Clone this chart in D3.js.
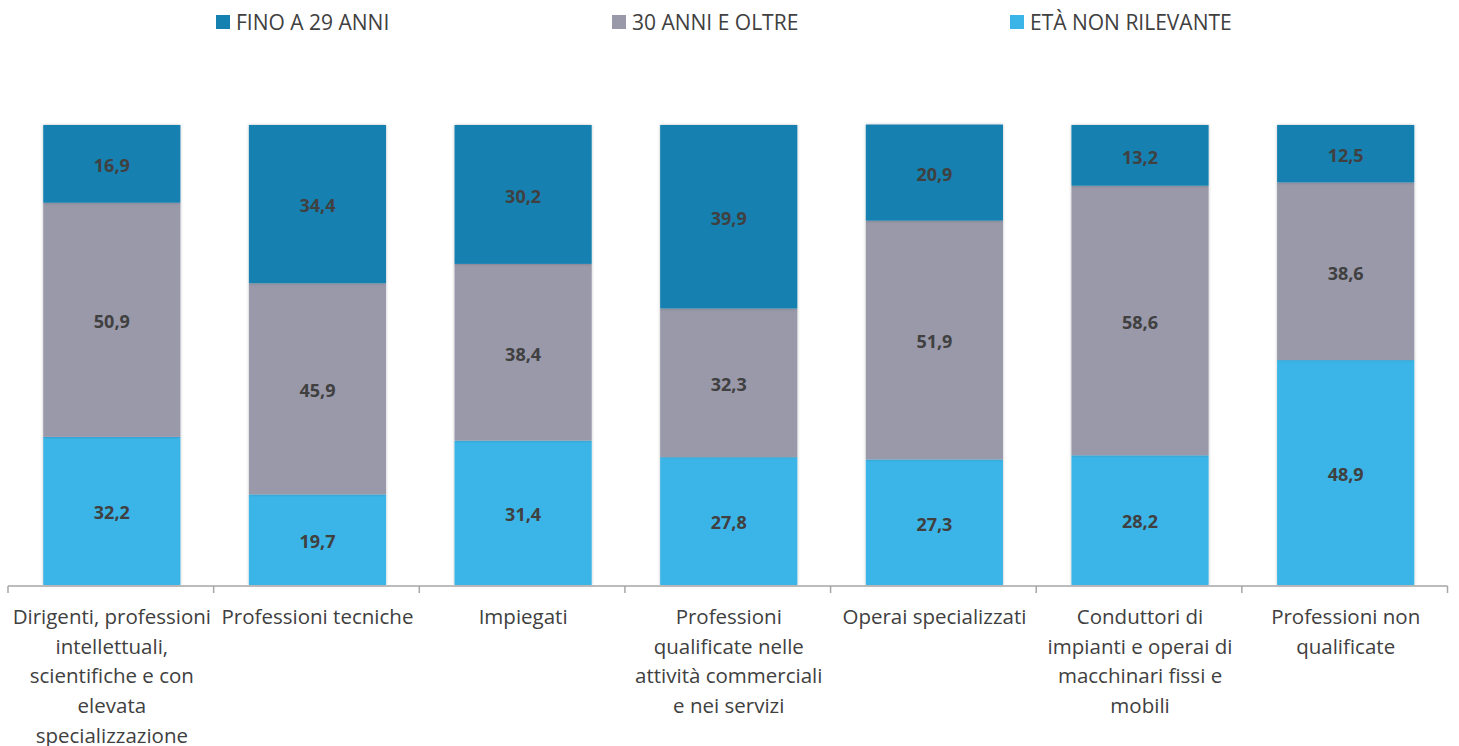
<!DOCTYPE html>
<html>
<head>
<meta charset="utf-8">
<script src="https://cdn.jsdelivr.net/npm/d3@7"></script>
<style>
  body { margin: 0; background: #fff; }
  text { font-family: "Open Sans", "Noto Sans", sans-serif; }
</style>
</head>
<body>
<svg id="chart" width="1459" height="746"></svg>
<script>
// categories (each line of the axis label)
var categories = [
  ["Dirigenti, professioni", "intellettuali,", "scientifiche e con", "elevata", "specializzazione"],
  ["Professioni tecniche"],
  ["Impiegati"],
  ["Professioni", "qualificate nelle", "attività commerciali", "e nei servizi"],
  ["Operai specializzati"],
  ["Conduttori di", "impianti e operai di", "macchinari fissi e", "mobili"],
  ["Professioni non", "qualificate"]
];

var seriesNames = ["ETÀ NON RILEVANTE", "30 ANNI E OLTRE", "FINO A 29 ANNI"];
var legendOrder = ["FINO A 29 ANNI", "30 ANNI E OLTRE", "ETÀ NON RILEVANTE"];

var nonRilevante = [32.2, 19.7, 31.4, 27.8, 27.3, 28.2, 48.9];
var oltre30 = [50.9, 45.9, 38.4, 32.3, 51.9, 58.6, 38.6];
var fino29 = [16.9, 34.4, 30.2, 39.9, 20.9, 13.2, 12.5];

var colors = {
  "FINO A 29 ANNI": "#1481b1",
  "30 ANNI E OLTRE": "#9999aa",
  "ETÀ NON RILEVANTE": "#3bb5e8"
};

var svg = d3.select("#chart");

var margin = { left: 8, right: 11.5, top: 125, bottom: 161 };
var width = 1459 - margin.left - margin.right;
var height = 746 - margin.top - margin.bottom;

// table for the stack
var table = categories.map(function(c, i) {
  return {
    idx: i,
    "ETÀ NON RILEVANTE": nonRilevante[i],
    "30 ANNI E OLTRE": oltre30[i],
    "FINO A 29 ANNI": fino29[i]
  };
});

var x = d3.scaleBand()
  .domain(d3.range(categories.length))
  .range([0, width])
  .paddingInner(0.333)
  .paddingOuter(0.1665);

var y = d3.scaleLinear().domain([0, 100]).range([height, 0]);

var stack = d3.stack().keys(seriesNames);
var layers = stack(table);

var defs = svg.append("defs");
var filter = defs.append("filter").attr("id", "shadow")
  .attr("x", "-10%").attr("y", "-10%").attr("width", "120%").attr("height", "120%");
filter.append("feDropShadow")
  .attr("dx", 0).attr("dy", 0).attr("stdDeviation", 1.5)
  .attr("flood-color", "#000").attr("flood-opacity", 0.25);

var g = svg.append("g").attr("transform", "translate(" + margin.left + "," + margin.top + ")");

// bars
var layerG = g.selectAll(".layer").data(layers).enter().append("g")
  .attr("class", "layer")
  .attr("fill", function(d) { return colors[d.key]; });

layerG.selectAll("rect").data(function(d) { return d; }).enter().append("rect")
  .attr("x", function(d) { return x(d.data.idx) + 1; })
  .attr("width", x.bandwidth())
  .attr("y", function(d) { return y(d[1]); })
  .attr("height", function(d) { return y(d[0]) - y(d[1]); })
  .attr("filter", "url(#shadow)");

// value labels
layerG.selectAll("text").data(function(d) { return d.map(function(p) { p.key = d.key; return p; }); })
  .enter().append("text")
  .attr("x", function(d) { return x(d.data.idx) + 1 + x.bandwidth() / 2; })
  .attr("y", function(d) { return (y(d[0]) + y(d[1])) / 2 + 2; })
  .attr("dy", "0.35em")
  .attr("text-anchor", "middle")
  .attr("fill", "#404040")
  .attr("font-size", 18)
  .attr("font-weight", "bold")
  .text(function(d) { return d3.format(".1f")(d[1] - d[0]).replace(".", ","); });

// x axis line and ticks between categories
var axisG = g.append("g").attr("transform", "translate(0," + (height + 1) + ")");
axisG.append("line")
  .attr("x1", 0).attr("x2", width)
  .attr("y1", 0).attr("y2", 0)
  .attr("stroke", "#a6a6a6").attr("stroke-width", 1.5);
var step = x.step();
axisG.selectAll(".tick").data(d3.range(categories.length + 1)).enter().append("line")
  .attr("class", "tick")
  .attr("x1", function(i) { return i * step; })
  .attr("x2", function(i) { return i * step; })
  .attr("y1", 0).attr("y2", 7)
  .attr("stroke", "#a6a6a6").attr("stroke-width", 1.5);

// category labels
var labelG = axisG.selectAll(".cat").data(categories).enter().append("text")
  .attr("class", "cat")
  .attr("text-anchor", "middle")
  .attr("fill", "#404040")
  .attr("font-size", 20.5)
  .attr("transform", function(d, i) { return "translate(" + (x(i) + 1 + x.bandwidth() / 2) + ",38)"; });
labelG.selectAll("tspan").data(function(d) { return d; }).enter().append("tspan")
  .attr("x", 0)
  .attr("y", function(d, i) { return i * 29.7; })
  .text(function(d) { return d; });

// legend
var legendX = [216, 612, 1010];
var legend = svg.selectAll(".legend-item").data(legendOrder).enter().append("g")
  .attr("class", "legend-item")
  .attr("transform", function(d, i) { return "translate(" + legendX[i] + ",15)"; });
legend.append("rect")
  .attr("width", 14).attr("height", 14)
  .attr("fill", function(d) { return colors[d]; });
legend.append("text")
  .attr("x", 20).attr("y", 7).attr("dy", "0.37em")
  .attr("font-size", 21)
  .attr("fill", "#404040")
  .text(function(d) { return d; });
</script>
</body>
</html>
